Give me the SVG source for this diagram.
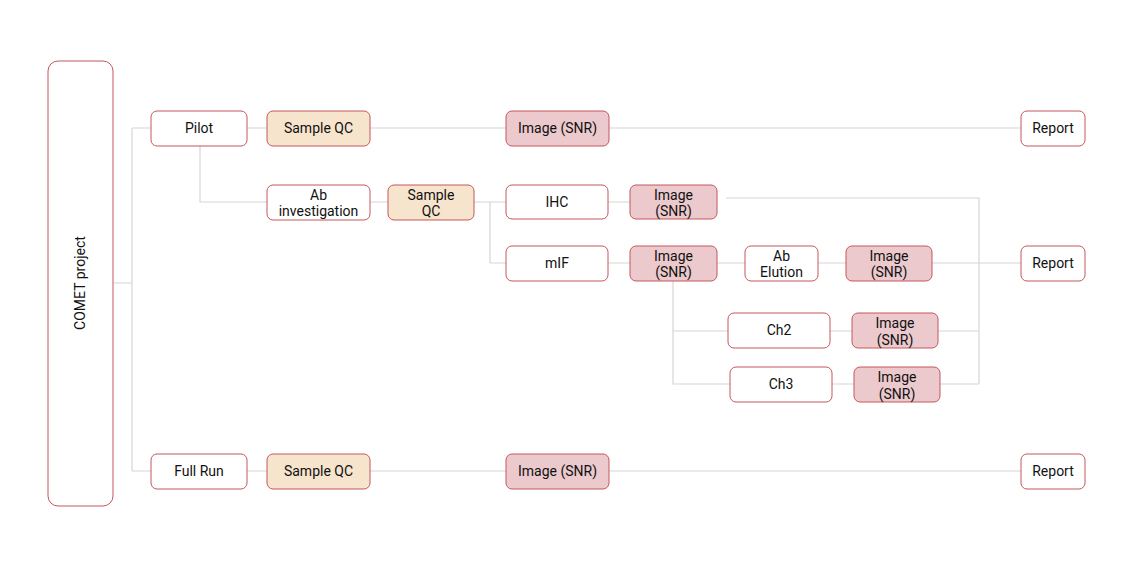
<svg xmlns="http://www.w3.org/2000/svg" width="1133" height="566" viewBox="0 0 1133 566">
<style>
.n{fill:#ffffff;stroke:#c4575c;stroke-width:1}
.qc{fill:#f6e4cd;stroke:#c4575c;stroke-width:1}
.im{fill:#ebc9cc;stroke:#c4575c;stroke-width:1}
.t{font-family:Roboto,"Liberation Sans",sans-serif;font-size:14px;fill:#111111;text-anchor:middle}
.c{fill:none;stroke:#d6d6d6;stroke-width:1.2}
</style>
<rect width="1133" height="566" fill="#ffffff"/>
<g id="connectors">
<path class="c" d="M113,283 H132 M132,128 V471 M132,128 H151 M132,471 H151"/>
<path class="c" d="M247,128 H267 M370,128 H506 M609,128 H1021"/>
<path class="c" d="M247,471 H267 M370,471 H506 M609,471 H1021"/>
<path class="c" d="M200,146 V202 H267 M370,202 H388 M474,202 H490 M490,202 V263 M490,202 H506 M490,263 H506"/>
<path class="c" d="M608,202 H630 M726,198 H979 V384"/>
<path class="c" d="M608,263 H630 M717,263 H745 M818,263 H846 M932,263 H1021"/>
<path class="c" d="M673,281 V384 H730 M673,331 H728 M830,331 H852 M938,331 H979 M832,384 H854 M940,384 H979"/>
</g>
<g id="comet"><rect class="n" x="48" y="61" width="65" height="445" rx="10"/><text class="t" transform="translate(85,283) rotate(-90)">COMET project</text></g>
<g id="pilot"><rect class="n" x="151" y="111" width="96" height="35" rx="6"/><text class="t" x="199" y="133">Pilot</text></g>
<g id="qc1"><rect class="qc" x="267" y="111" width="103" height="35" rx="6"/><text class="t" x="318.5" y="133">Sample QC</text></g>
<g id="img1"><rect class="im" x="506" y="111" width="103" height="35" rx="6"/><text class="t" x="557.5" y="133">Image (SNR)</text></g>
<g id="rep1"><rect class="n" x="1021" y="111" width="64" height="35" rx="6"/><text class="t" x="1053" y="133">Report</text></g>
<g id="abinv"><rect class="n" x="267" y="185" width="103" height="35" rx="6"/><text class="t" x="318.5" y="200">Ab</text><text class="t" x="318.5" y="216">investigation</text></g>
<g id="qc2"><rect class="qc" x="388" y="185" width="86" height="35" rx="6"/><text class="t" x="431" y="200">Sample</text><text class="t" x="431" y="216">QC</text></g>
<g id="ihc"><rect class="n" x="506" y="185" width="102" height="34" rx="6"/><text class="t" x="557" y="207">IHC</text></g>
<g id="img2"><rect class="im" x="630" y="185" width="87" height="34" rx="6"/><text class="t" x="673.5" y="200">Image</text><text class="t" x="673.5" y="216">(SNR)</text></g>
<g id="mif"><rect class="n" x="506" y="246" width="102" height="35" rx="6"/><text class="t" x="557" y="268">mIF</text></g>
<g id="img3"><rect class="im" x="630" y="246" width="87" height="35" rx="6"/><text class="t" x="673.5" y="261">Image</text><text class="t" x="673.5" y="277">(SNR)</text></g>
<g id="elution"><rect class="n" x="745" y="246" width="73" height="35" rx="6"/><text class="t" x="781.5" y="261">Ab</text><text class="t" x="781.5" y="277">Elution</text></g>
<g id="img4"><rect class="im" x="846" y="246" width="86" height="35" rx="6"/><text class="t" x="889" y="261">Image</text><text class="t" x="889" y="277">(SNR)</text></g>
<g id="rep2"><rect class="n" x="1021" y="246" width="64" height="35" rx="6"/><text class="t" x="1053" y="268">Report</text></g>
<g id="ch2"><rect class="n" x="728" y="313" width="102" height="35" rx="6"/><text class="t" x="779" y="335">Ch2</text></g>
<g id="img5"><rect class="im" x="852" y="313" width="86" height="35" rx="6"/><text class="t" x="895" y="328">Image</text><text class="t" x="895" y="345">(SNR)</text></g>
<g id="ch3"><rect class="n" x="730" y="367" width="102" height="35" rx="6"/><text class="t" x="781" y="389">Ch3</text></g>
<g id="img6"><rect class="im" x="854" y="367" width="86" height="35" rx="6"/><text class="t" x="897" y="382">Image</text><text class="t" x="897" y="399">(SNR)</text></g>
<g id="fullrun"><rect class="n" x="151" y="454" width="96" height="35" rx="6"/><text class="t" x="199" y="476">Full Run</text></g>
<g id="qc3"><rect class="qc" x="267" y="454" width="103" height="35" rx="6"/><text class="t" x="318.5" y="476">Sample QC</text></g>
<g id="img7"><rect class="im" x="506" y="454" width="103" height="35" rx="6"/><text class="t" x="557.5" y="476">Image (SNR)</text></g>
<g id="rep3"><rect class="n" x="1021" y="454" width="64" height="35" rx="6"/><text class="t" x="1053" y="476">Report</text></g>
</svg>
